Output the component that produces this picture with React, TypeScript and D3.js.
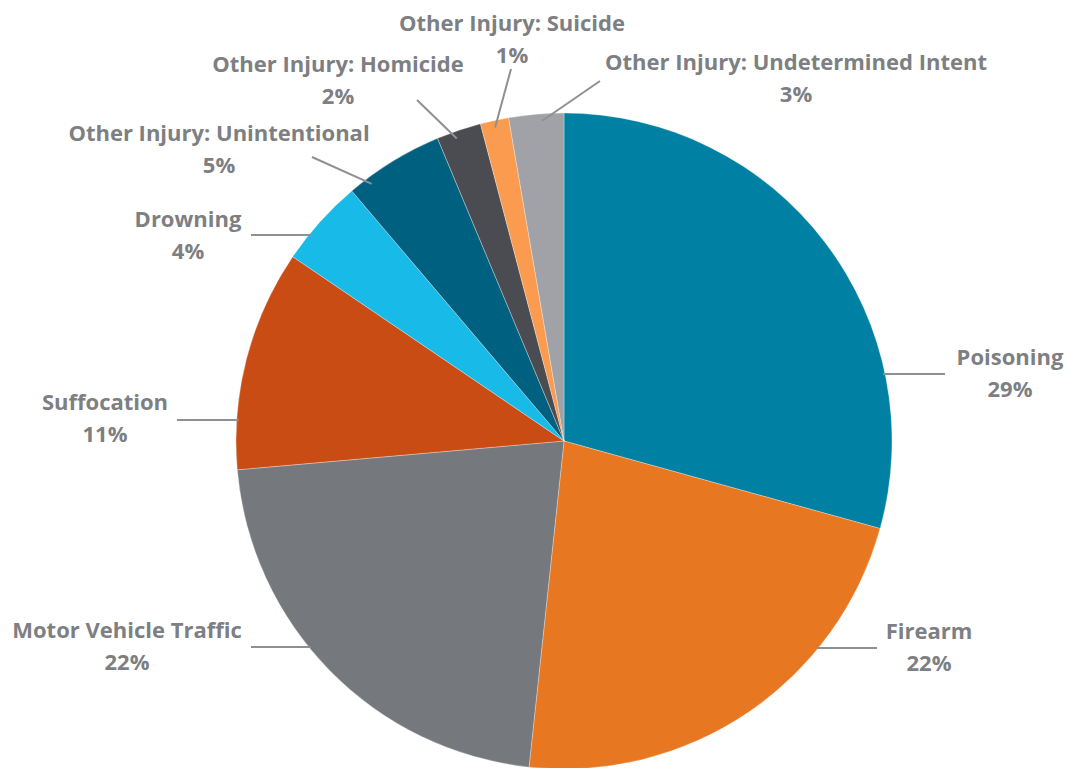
import React from "react";
import * as d3 from "d3";

const categories = [
  "Poisoning",
  "Firearm",
  "Motor Vehicle Traffic",
  "Suffocation",
  "Drowning",
  "Other Injury: Unintentional",
  "Other Injury: Homicide",
  "Other Injury: Suicide",
  "Other Injury: Undetermined Intent",
];
const values = [29.3, 22.4, 21.9, 10.9, 4.3, 4.9, 2.2, 1.4, 2.7];
const percentLabels = ["29%", "22%", "22%", "11%", "4%", "5%", "2%", "1%", "3%"];
const colors = [
  "#0080A3",
  "#E87722",
  "#75787C",
  "#C94C14",
  "#18BAE8",
  "#006080",
  "#4B4C51",
  "#FA9B50",
  "#A0A2A7",
];

// label layout (annotation positions): text centre, first baseline, leader outer point,
// mode: "h" = horizontal leader to the pie edge, "d" = diagonal leader to a point in the slice
const labelLayout = [
  { tx: 1010, ty: 365, ox: 945, oy: 374, mode: "h", frac: 0.5 },
  { tx: 929, ty: 639, ox: 877, oy: 648, mode: "h", frac: 0.5 },
  { tx: 127, ty: 638, ox: 251, oy: 647, mode: "h", frac: 0.5 },
  { tx: 105, ty: 410, ox: 177, oy: 420, mode: "h", frac: 0.5 },
  { tx: 188, ty: 227, ox: 251, oy: 235, mode: "h", frac: 0.5 },
  { tx: 219, ty: 141, ox: 312, oy: 157, mode: "d", frac: 0.2 },
  { tx: 338, ty: 72, ox: 417, oy: 100, mode: "d", frac: 0.4 },
  { tx: 512, ty: 31, ox: 511, oy: 69, mode: "d", frac: 0.47 },
  { tx: 796, ty: 70, ox: 600, oy: 81, mode: "d", frac: 0.6 },
];

const W = 1069;
const H = 768;
const CX = 564;
const CY = 441;
const R = 328;

export default function App() {
  const pie = d3
    .pie<number>()
    .sort(null)
    .value((d) => d)
    .startAngle(0)
    .endAngle(2 * Math.PI);
  const arcs = pie(values);
  const arc = d3.arc<d3.PieArcDatum<number>>().innerRadius(0).outerRadius(R);

  const leaders = arcs.map((a, i) => {
    const L = labelLayout[i];
    let ix: number, iy: number;
    if (L.mode === "h") {
      const dy = L.oy - CY;
      const dx = Math.sqrt(Math.max(0, R * R - dy * dy));
      ix = L.ox > CX ? CX + dx - 2 : CX - dx + 2;
      iy = L.oy;
    } else {
      const ang = a.startAngle + L.frac * (a.endAngle - a.startAngle);
      const rr = R - 7;
      ix = CX + rr * Math.sin(ang);
      iy = CY - rr * Math.cos(ang);
    }
    return { x1: L.ox, y1: L.oy, x2: ix, y2: iy };
  });

  const font = "'Open Sans', sans-serif";
  const textColor = "#7D7F83";

  return (
    <svg
      width={W}
      height={H}
      style={{ position: "absolute", left: 0, top: 0, background: "#fff" }}
    >
      <g transform={`translate(${CX},${CY})`}>
        {arcs.map((a, i) => (
          <path
            key={categories[i]}
            d={arc(a) || ""}
            fill={colors[i]}
            stroke="#ffffff"
            strokeWidth={0.6}
            strokeOpacity={0.5}
          />
        ))}
      </g>
      {leaders.map((l, i) => (
        <line
          key={"l" + i}
          x1={l.x1}
          y1={l.y1}
          x2={l.x2}
          y2={l.y2}
          stroke="#8E9093"
          strokeWidth={2}
        />
      ))}
      {categories.map((c, i) => {
        const L = labelLayout[i];
        return (
          <g key={"t" + i} fontFamily={font} fontWeight={700} fontSize={22} fill={textColor} textAnchor="middle">
            <text x={L.tx} y={L.ty}>{c}</text>
            <text x={L.tx} y={L.ty + 32}>{percentLabels[i]}</text>
          </g>
        );
      })}
    </svg>
  );
}
